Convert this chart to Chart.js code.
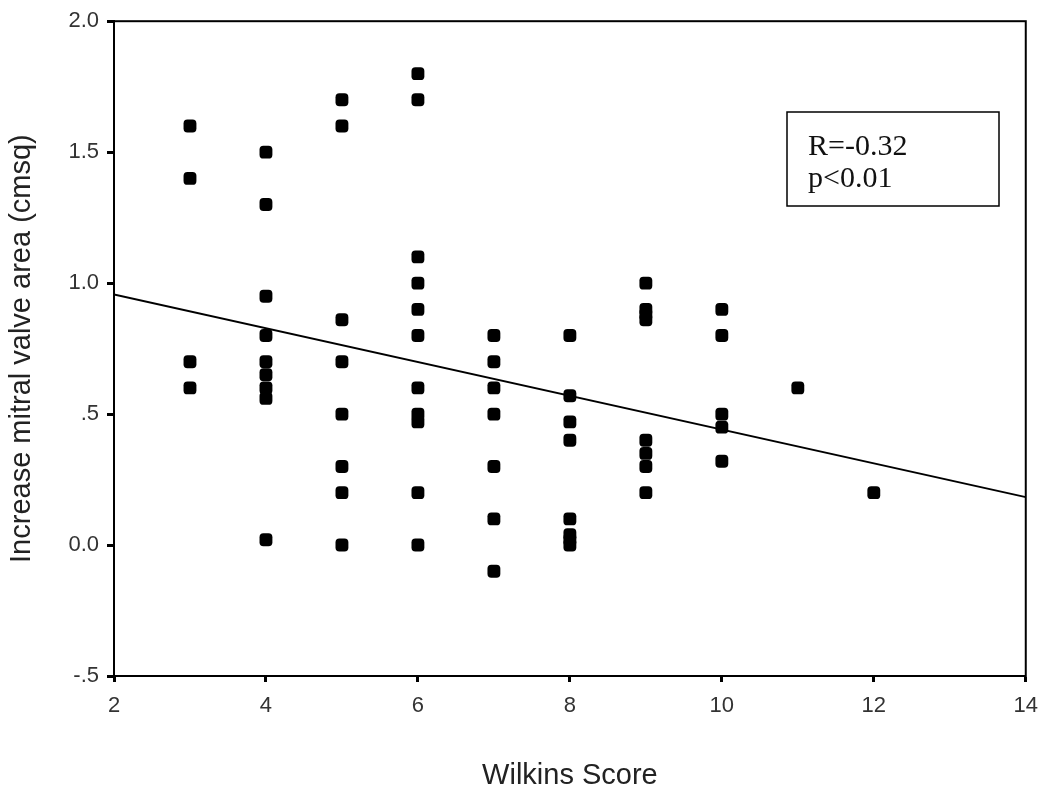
<!DOCTYPE html>
<html>
<head>
<meta charset="utf-8">
<script src="https://cdn.jsdelivr.net/npm/chart.js@4/dist/chart.umd.min.js"></script>
<style>
  body { margin: 0; background: #fff; }
  #wrap { width: 1044px; height: 790px; }
</style>
</head>
<body>
<div id="wrap"><canvas id="myChart" width="1044" height="790"></canvas></div>
<script>
// Wilkins score vs increase in mitral valve area
var wilkins = [
  3, 3, 3, 3,
  4, 4, 4, 4, 4, 4, 4, 4, 4,
  5, 5, 5, 5, 5, 5, 5, 5,
  6, 6, 6, 6, 6, 6, 6, 6, 6, 6, 6,
  7, 7, 7, 7, 7, 7, 7,
  8, 8, 8, 8, 8, 8, 8, 8,
  9, 9, 9, 9, 9, 9, 9, 9,
  10, 10, 10, 10, 10,
  11,
  12
];
var mvaIncrease = [
  1.6, 1.4, 0.7, 0.6,
  1.5, 1.3, 0.95, 0.8, 0.7, 0.65, 0.6, 0.56, 0.02,
  1.7, 1.6, 0.86, 0.7, 0.5, 0.3, 0.2, 0.0,
  1.8, 1.7, 1.1, 1.0, 0.9, 0.8, 0.6, 0.5, 0.47, 0.2, 0.0,
  0.8, 0.7, 0.6, 0.5, 0.3, 0.1, -0.1,
  0.8, 0.57, 0.47, 0.4, 0.1, 0.04, 0.02, 0.0,
  1.0, 0.9, 0.88, 0.86, 0.4, 0.35, 0.3, 0.2,
  0.9, 0.8, 0.5, 0.45, 0.32,
  0.6,
  0.2
];

// fitted line end points
var fitX = [2, 14];
var fitY = [0.957, 0.183];

var yTickLabels = ['-.5', '0.0', '.5', '1.0', '1.5', '2.0'];
var statLines = ['R=-0.32', 'p<0.01'];

var points = wilkins.map(function(x, i) { return {x: x, y: mvaIncrease[i]}; });
var fitLine = fitX.map(function(x, i) { return {x: x, y: fitY[i]}; });

var sansFont = "'Liberation Sans', Arial, Helvetica, sans-serif";

// full frame around the plot + the stats box
var framePlugin = {
  id: 'frame',
  afterDraw: function(chart) {
    var c = chart.ctx, a = chart.chartArea;
    c.save();
    c.strokeStyle = '#000';
    c.lineWidth = 2;
    c.strokeRect(a.left, a.top, a.right - a.left, a.bottom - a.top);

    // stats box
    c.lineWidth = 1.5;
    c.strokeRect(787, 112, 212, 94);
    c.fillStyle = '#111';
    c.font = "30px 'Liberation Serif', 'Times New Roman', serif";
    c.textBaseline = 'alphabetic';
    c.fillText(statLines[0], 808, 155);
    c.fillText(statLines[1], 808, 187);
    c.restore();
  }
};

var ctx = document.getElementById('myChart').getContext('2d');
var chart = new Chart(ctx, {
  type: 'scatter',
  data: {
    datasets: [{
      label: 'Patients',
      data: points,
      backgroundColor: '#000',
      borderColor: '#000',
      pointStyle: 'rectRounded',
      pointRadius: 7.5,
      pointHoverRadius: 7.5,
      borderWidth: 0
    }, {
      type: 'line',
      label: 'Fit',
      data: fitLine,
      borderColor: '#000',
      borderWidth: 2,
      pointRadius: 0,
      fill: false,
      tension: 0
    }]
  },
  options: {
    responsive: false,
    animation: false,
    layout: { padding: { top: 20, right: 18, left: 0, bottom: 0 } },
    plugins: {
      legend: { display: false },
      tooltip: { enabled: false }
    },
    scales: {
      x: {
        type: 'linear',
        min: 2,
        max: 14,
        afterFit: function(scale) { scale.height = 114; },
        ticks: {
          stepSize: 2,
          padding: 6,
          color: '#333',
          font: { family: sansFont, size: 22, lineHeight: 1.65 }
        },
        grid: {
          drawOnChartArea: false,
          drawTicks: true,
          tickLength: 6,
          tickWidth: 3,
          color: '#000'
        },
        border: { display: true, color: '#000', width: 2 },
        title: {
          display: true,
          text: 'Wilkins Score',
          color: '#222',
          font: { family: sansFont, size: 29, lineHeight: 1 },
          padding: { top: 0, bottom: 0 }
        }
      },
      y: {
        type: 'linear',
        min: -0.5,
        max: 2,
        afterFit: function(scale) { scale.width = 114; },
        ticks: {
          stepSize: 0.5,
          padding: 8,
          color: '#333',
          font: { family: sansFont, size: 22 },
          callback: function(value, index) { return yTickLabels[index]; }
        },
        grid: {
          drawOnChartArea: false,
          drawTicks: true,
          tickLength: 7,
          tickWidth: 3,
          color: '#000'
        },
        border: { display: true, color: '#000', width: 2 },
        title: {
          display: true,
          text: 'Increase mitral valve area (cmsq)',
          color: '#222',
          font: { family: sansFont, size: 29, lineHeight: 1.2 },
          padding: { top: 5, bottom: 0 }
        }
      }
    }
  },
  plugins: [framePlugin]
});
</script>
</body>
</html>
